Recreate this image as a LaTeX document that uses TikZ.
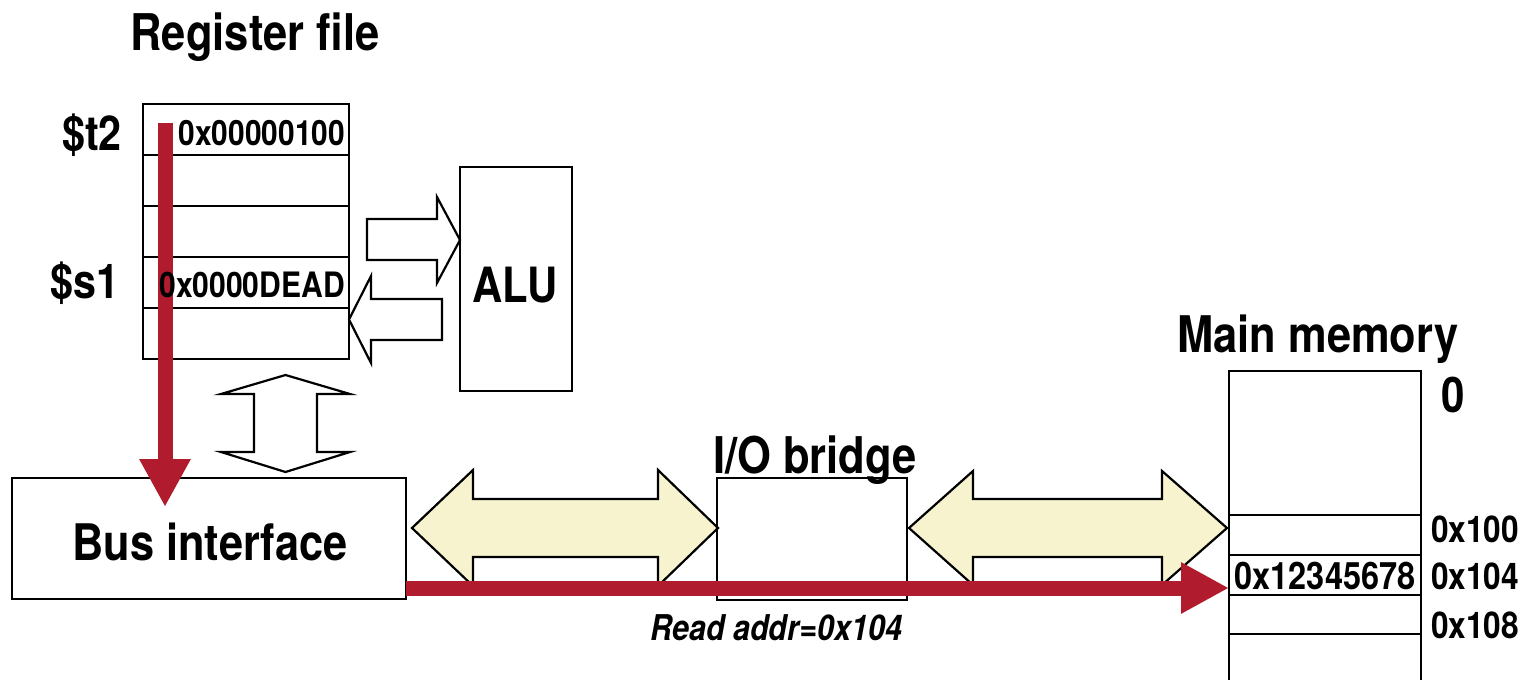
\documentclass[tikz,border=0pt]{standalone}
\usepackage{fontspec}
\setmainfont{TeX Gyre Heros}[FakeStretch=0.86]
\usetikzlibrary{arrows.meta}
\definecolor{busred}{RGB}{176,27,46}
\definecolor{busyellow}{RGB}{246,243,206}
\begin{document}
\begin{tikzpicture}[x=0.5pt,y=-0.5pt,
  box/.style={draw=black,line width=1.1pt,inner sep=0pt,outer sep=0pt},
  lbl/.style={inner sep=0pt,outer sep=0pt,anchor=base,font=\bfseries\fontsize{#1}{#1}\selectfont},
  ilbl/.style={inner sep=0pt,outer sep=0pt,anchor=base,font=\bfseries\itshape\fontsize{#1}{#1}\selectfont},
  hollow/.style={draw=black,line width=1.1pt,fill=white,line join=miter},
  bus/.style={draw=black,line width=1.1pt,fill=busyellow,line join=miter},
  flow/.style={draw=busred,line width=#1,-{Triangle[length=24pt,width=24pt]}}]
\useasboundingbox (0,0) rectangle (1526,680);

% register file
\node[box,minimum width=103pt,minimum height=25.5pt] (r1) at (246,129.5) {};
\node[box,minimum width=103pt,minimum height=25.5pt] (r2) at (246,180.5) {};
\node[box,minimum width=103pt,minimum height=25.5pt] (r3) at (246,231.5) {};
\node[box,minimum width=103pt,minimum height=25.5pt] (r4) at (246,282.5) {};
\node[box,minimum width=103pt,minimum height=25.5pt] (r5) at (246,333.5) {};

% ALU
\node[box,minimum width=56pt,minimum height=112pt] (alu) at (516,279) {};

% bus interface, I/O bridge
\node[box,minimum width=197pt,minimum height=60.5pt] (bi) at (209,538.5) {};
\node[box,minimum width=95pt,minimum height=61pt] (iob) at (812,539) {};

% main memory
\draw[line width=1.1pt] (1229,684) -- (1229,371) -- (1421,371) -- (1421,684);
\node[box,minimum width=96pt,minimum height=20pt] (m100) at (1325,535) {};
\node[box,minimum width=96pt,minimum height=20pt] (m104) at (1325,575) {};
\node[box,minimum width=96pt,minimum height=19.5pt] (m108) at (1325,614.5) {};

% hollow arrows
\draw[hollow] (367,219) -- (437,219) -- (437,197) -- (460,240) -- (437,283) -- (437,260) -- (367,260) -- cycle;
\draw[hollow] (442,299) -- (371,299) -- (371,276) -- (349,319.5) -- (371,363) -- (371,340) -- (442,340) -- cycle;
\draw[hollow] (285.5,375) -- (350,394) -- (317,394) -- (317,452) -- (350,452) -- (285.5,472) -- (221,452) -- (254,452) -- (254,394) -- (221,394) -- cycle;

% yellow bus arrows
\draw[bus] (412,528) -- (473,470) -- (473,499) -- (658,499) -- (658,470) -- (718,528) -- (658,586) -- (658,557) -- (473,557) -- (473,586) -- cycle;
\draw[bus] (909,528) -- (973,471) -- (973,499) -- (1162,499) -- (1162,471) -- (1227,528) -- (1162,585) -- (1162,557) -- (973,557) -- (973,585) -- cycle;

% red data flow
\coordinate (t2src) at (165,123);
\coordinate (bitgt) at (165,507);
\coordinate (busout) at (406,588);
\coordinate (memin) at (1229,588);
\draw[flow=7.5pt] (t2src) -- (bitgt);
\draw[flow=7.5pt] (busout) -- (memin);

% texts
\node[lbl=25.3pt] (trf) at (255,50) {Register file};
\node[lbl=24pt] (lt2) at (92,150) {\$t2};
\node[lbl=24pt] (ls1) at (85,298) {\$s1};
\node[lbl=17.4pt,anchor=base east] (v1) at (345,145) {0x00000100};
\node[lbl=17.5pt,anchor=base east] (v4) at (345,297) {0x0000DEAD};
\node[lbl=24.3pt] (talu) at (515,302) {ALU};
\node[lbl=25.2pt] (tbi) at (210,560) {Bus interface};
\node[lbl=25.3pt] (tiob) at (815,473) {I/O bridge};
\node[ilbl=17.75pt] (trd) at (776,640) {Read addr=0x104};
\node[lbl=25.25pt] (tmm) at (1318,352) {Main memory};
\node[lbl=24.5pt] (a0) at (1453,412) {0};
\node[lbl=18.4pt,anchor=base west] (a100) at (1431,542) {0x100};
\node[lbl=18.4pt,anchor=base west] (a104) at (1431,589) {0x104};
\node[lbl=18.4pt,anchor=base west] (a108) at (1431,638) {0x108};
\node[lbl=18.9pt] (vmem) at (1325,589) {0x12345678};
\end{tikzpicture}
\end{document}
